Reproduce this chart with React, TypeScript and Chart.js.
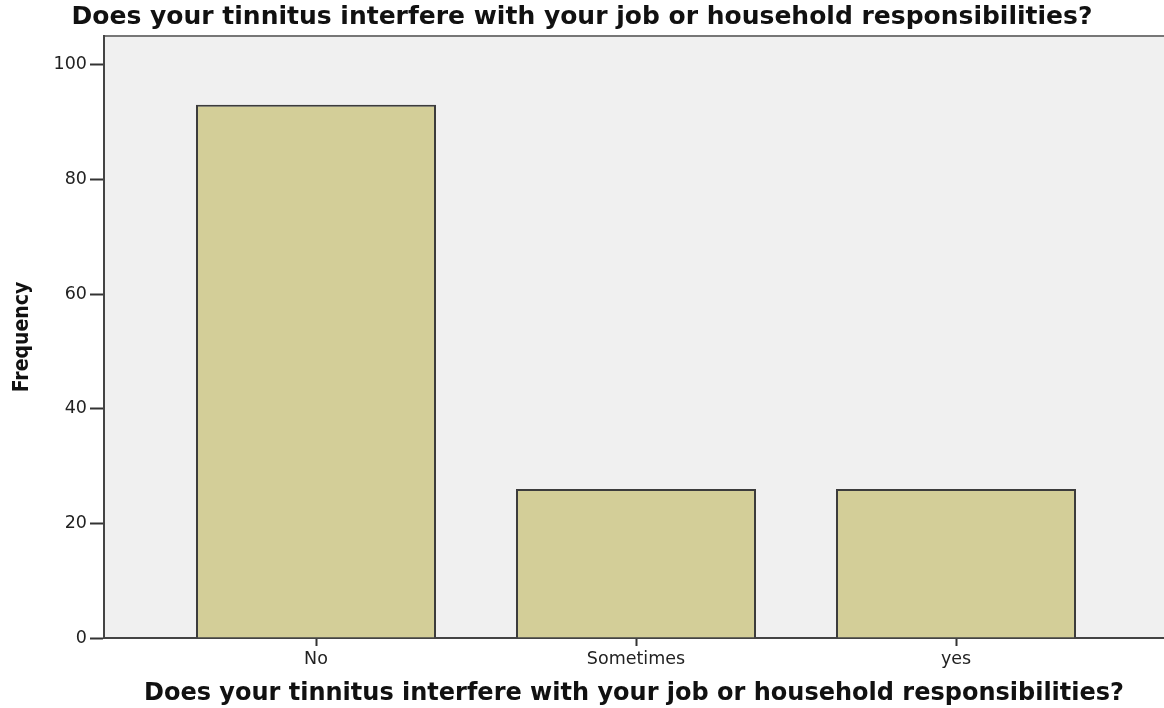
import React, { useEffect, useRef } from 'react';
import { Chart, registerables } from 'chart.js';

Chart.register(...registerables);

const chartTitle = 'Does your tinnitus interfere with your job or household responsibilities?';
const xAxisTitle = 'Does your tinnitus interfere with your job or household responsibilities?';
const yAxisTitle = 'Frequency';
const categories = ['No', 'Sometimes', 'yes'];
const frequencies = [93, 26, 26];
const yTickValues = [0, 20, 40, 60, 80, 100];

export default function App() {
  const ref = useRef<HTMLCanvasElement>(null);

  useEffect(() => {
    if (!ref.current) return;
    const plotBg = {
      id: 'plotBg',
      beforeDraw(chart: any) {
        const { ctx, chartArea: a } = chart;
        ctx.save();
        ctx.fillStyle = '#f0f0f0';
        ctx.fillRect(a.left, a.top, a.right - a.left, a.bottom - a.top);
        ctx.strokeStyle = '#777777';
        ctx.lineWidth = 2;
        ctx.beginPath();
        ctx.moveTo(a.left, a.top);
        ctx.lineTo(a.right, a.top);
        ctx.stroke();
        ctx.restore();
      },
    };

    const chart = new Chart(ref.current, {
      type: 'bar',
      data: {
        datasets: [
          {
            label: yAxisTitle,
            data: frequencies.map((v, i) => ({ x: i, y: v })),
            backgroundColor: '#d3ce98',
            borderColor: '#3c3c3c',
            borderWidth: 2,
            categoryPercentage: 0.75,
            barPercentage: 1,
          },
        ],
      },
      options: {
        responsive: false,
        animation: false,
        devicePixelRatio: 1,
        layout: { padding: { left: 0, right: 0, top: 0, bottom: 0 } },
        plugins: {
          legend: { display: false },
          tooltip: { enabled: false },
          title: {
            display: true,
            text: chartTitle,
            color: '#111111',
            font: { family: '"DejaVu Sans", sans-serif', size: 25, weight: 'bold' },
            padding: { top: 2, bottom: 4 },
          },
        },
        scales: {
          x: {
            type: 'linear',
            min: -0.6625,
            max: 2.65,
            offset: false,
            z: 1,
            afterBuildTicks: (scale: any) => {
              scale.ticks = categories.map((_, i) => ({ value: i }));
            },
            afterFit: (scale: any) => {
              scale.height = 70;
            },
            ticks: {
              color: '#222222',
              font: { family: '"DejaVu Sans", sans-serif', size: 17.5 },
              padding: 3,
              maxRotation: 0,
              autoSkip: false,
              callback: (value: any) => categories[value as number] ?? '',
            },
            grid: {
              display: true,
              drawOnChartArea: false,
              drawTicks: true,
              offset: false,
              tickLength: 8,
              tickColor: '#333333',
              tickWidth: 2,
            },
            border: { display: true, color: '#444444', width: 2 },
            title: {
              display: true,
              text: xAxisTitle,
              color: '#111111',
              font: { family: '"DejaVu Sans", sans-serif', size: 24, weight: 'bold' },
              padding: { top: 0, bottom: 0 },
            },
          },
          y: {
            type: 'linear',
            min: 0,
            max: 105,
            afterBuildTicks: (scale: any) => {
              scale.ticks = yTickValues.map((v) => ({ value: v }));
            },
            afterFit: (scale: any) => {
              scale.width = 104;
            },
            ticks: {
              color: '#222222',
              font: { family: '"DejaVu Sans", sans-serif', size: 17.5 },
              padding: 3,
            },
            grid: {
              display: true,
              drawOnChartArea: false,
              drawTicks: true,
              tickLength: 14,
              tickColor: '#333333',
              tickWidth: 2,
            },
            border: { display: true, color: '#444444', width: 2 },
            title: {
              display: true,
              text: yAxisTitle,
              color: '#111111',
              font: {
                family: '"Liberation Sans Narrow", "DejaVu Sans Condensed", sans-serif',
                size: 21,
                weight: 'bold',
              },
              padding: { top: 10, bottom: 0 },
            },
          },
        },
      },
      plugins: [plotBg],
    } as any);

    return () => chart.destroy();
  }, []);

  return (
    <div style={{ position: 'absolute', left: 0, top: 0, width: 1164, height: 708, background: '#ffffff' }}>
      <canvas ref={ref} width={1164} height={708} />
    </div>
  );
}
